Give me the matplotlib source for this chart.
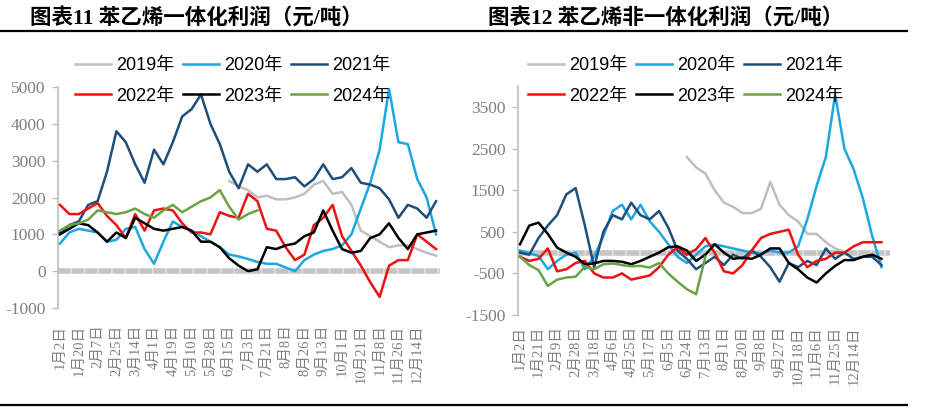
import matplotlib
matplotlib.use('Agg')
import matplotlib.pyplot as plt
from matplotlib.lines import Line2D
import numpy as np

nan = np.nan

# ---------------- data (one point every half tick interval) ----------------
years = ['2019年', '2020年', '2021年', '2022年', '2023年', '2024年']
colors = ['#BFBFBF', '#1AA7E2', '#1F4E79', '#EE1111', '#000000', '#6AA343']

left_labels = ['1月2日', '1月20日', '2月7日', '2月25日', '3月14日', '4月1日', '4月19日',
               '5月10日', '5月28日', '6月15日', '7月3日', '7月21日', '8月8日', '8月26日',
               '9月13日', '10月1日', '10月21日', '11月8日', '11月26日', '12月14日']
right_labels = ['1月2日', '1月21日', '2月9日', '2月28日', '3月18日', '4月6日', '4月25日',
                '5月17日', '6月5日', '6月24日', '7月13日', '8月1日', '8月20日', '9月8日',
                '9月27日', '10月18日', '11月6日', '11月25日', '12月14日']

# 一体化利润
int_2019 = [nan] * 18 + [2450, 2300, 2200, 2000, 2050, 1950, 1950, 2000, 2100, 2350, 2450, 2100,
                         2150, 1800, 1100, 950, 800, 650, 700, 700, 600, 500, 420]
int_2020 = [750, 1050, 1150, 1100, 1050, 800, 850, 1150, 1200, 600, 200, 800, 1350, 1200, 1100,
            950, 800, 650, 450, 400, 330, 250, 200, 200, 100, 0, 300, 450, 550, 600, 700, 1000,
            1700, 2400, 3300, 4950, 3500, 3450, 2500, 2000, 1000]
int_2021 = [1050, 1250, 1350, 1800, 1900, 2700, 3800, 3500, 2900, 2400, 3300, 2900, 3500, 4200,
            4400, 4800, 4000, 3450, 2700, 2250, 2900, 2700, 2900, 2500, 2500, 2550, 2300, 2500,
            2900, 2500, 2550, 2800, 2400, 2350, 2250, 1950, 1450, 1800, 1700, 1450, 1900]
int_2022 = [1800, 1550, 1550, 1700, 1850, 1500, 1250, 900, 1550, 1100, 1650, 1700, 1650, 1300,
            1050, 1050, 1000, 1600, 1500, 1450, 2100, 1900, 1150, 1100, 650, 300, 450, 1250, 1450,
            1800, 950, 550, 150, -300, -700, 150, 300, 300, 1000, 800, 600]
int_2023 = [1000, 1150, 1300, 1250, 1050, 800, 1050, 900, 1450, 1300, 1150, 1100, 1150, 1200,
            1100, 800, 800, 650, 350, 150, 0, 50, 650, 600, 700, 750, 950, 1050, 1650, 1100, 600,
            500, 550, 900, 1000, 1300, 900, 600, 1000, 1050, 1100]
int_2024 = [1100, 1250, 1300, 1400, 1650, 1600, 1550, 1600, 1700, 1550, 1450, 1650, 1800, 1600,
            1750, 1900, 2000, 2200, 1750, 1400, 1550, 1650] + [nan] * 19

# 非一体化利润
non_2019 = [nan] * 18 + [2300, 2050, 1900, 1500, 1200, 1100, 950, 950, 1050, 1700, 1150, 900,
                         750, 450, 450, 250, 100, 0] + [nan] * 4
non_2020 = [50, -20, -80, -400, -200, -50, 0, -400, -100, 400, 1000, 1150, 800, 1150, 750, 500,
            200, -100, -250, -50, 150, 200, 150, 100, 50, 0, -20, 50, 0, 0, 150, 800, 1600, 2300,
            3800, 2500, 2000, 1300, 400, -350]
non_2021 = [0, -50, 350, 650, 900, 1400, 1550, 650, -350, 500, 900, 800, 1200, 900, 800, 1000,
            600, 50, -150, -400, -250, -100, -300, -50, -150, 50, -100, -350, -700, -250, -350,
            -200, -300, 100, -150, 0, -150, -100, -100, -300]
non_2022 = [-100, -200, -150, 100, -450, -400, -250, -200, -500, -600, -600, -500, -650, -600,
            -550, -350, -50, 130, -50, 80, 350, 0, -450, -500, -300, 50, 350, 450, 500, 550, -50,
            -350, -200, -150, 0, 0, 150, 250, 250, 250]
non_2023 = [200, 650, 720, 450, 120, 0, -100, -280, -260, -200, -200, -220, -280, -200, -100, 0,
            130, 150, 50, -200, -50, 200, 0, -150, -120, -150, -50, 100, 100, -250, -400, -600,
            -720, -500, -320, -180, -180, -100, -50, -150]
non_2024 = [-100, -300, -420, -800, -650, -600, -580, -340, -400, -280, -260, -300, -330, -320,
            -360, -250, -500, -700, -880, -1000, -100] + [nan] * 19

int_series = [int_2019, int_2020, int_2021, int_2022, int_2023, int_2024]
non_series = [non_2019, non_2020, non_2021, non_2022, non_2023, non_2024]

# ---------------- fonts ----------------
serif_cjk = ['Liberation Serif', 'Noto Sans CJK SC']
sans_cjk = ['Liberation Sans', 'Noto Sans CJK SC']
gray_txt = '#7F7F7F'

W, H = 927, 408
fig = plt.figure(figsize=(W / 100, H / 100), dpi=100)


def fx(px):
    return px / W


def fy(py):
    return 1 - py / H


def panel(rect, series, labels, ylim, yticks, xlim, title, title_x, leg_x, xpad):
    ax = fig.add_axes(rect)
    handles = []
    for vals, c, name in zip(series, colors, years):
        xs = np.arange(len(vals)) * 0.5
        ln, = ax.plot(xs, vals, color=c, lw=1.8, label=name, zorder=3, solid_joinstyle='round')
        handles.append(ln)
    # zero line (gray band)
    ax.axhline(0, color='#C4C4C4', lw=4, gapcolor='#DCDCDC', dashes=(2.2, 0.25), zorder=2)

    ax.set_xlim(*xlim)
    ax.set_ylim(*ylim)
    ax.set_yticks(yticks)
    ax.set_yticklabels([str(v) for v in yticks], family=serif_cjk, fontsize=12.5, color=gray_txt)
    ax.set_xticks(range(len(labels)))
    ax.set_xticklabels(labels, rotation=90, family=serif_cjk, fontsize=10.5, color=gray_txt)
    ax.tick_params(axis='x', length=0, pad=xpad)
    ax.tick_params(axis='y', length=4, width=1, color='#BFBFBF', pad=5)
    for s in ['top', 'right', 'bottom']:
        ax.spines[s].set_visible(False)
    ax.spines['left'].set_color('#BFBFBF')
    ax.spines['left'].set_linewidth(1.2)

    order = [0, 3, 1, 4, 2, 5]
    ax.legend([handles[i] for i in order], [years[i] for i in order], ncol=3,
              loc='upper left', bbox_to_anchor=(fx(leg_x), fy(57)), bbox_transform=fig.transFigure,
              frameon=False, prop={'family': sans_cjk, 'size': 13}, handlelength=2.0,
              handletextpad=0.3, columnspacing=0.45, labelspacing=0.75, borderpad=0,
              borderaxespad=0)

    fig.text(fx(title_x), fy(18), title, ha='left', va='center', fontsize=15.5,
             fontweight='bold', family=serif_cjk, color='black')
    return ax


panel([fx(58), fy(308), fx(440 - 58), (308 - 87) / H], int_series, left_labels,
      (-1000, 5000), list(range(-1000, 5001, 1000)), (-0.106, 20.21),
      '图表11 苯乙烯一体化利润（元/吨）', 30, 75, 12)

panel([fx(518), fy(315), fx(890 - 518), (315 - 86.2) / H], non_series, right_labels,
      (-1500, 4000), list(range(-1500, 4000, 1000)), (-0.108, 19.96),
      '图表12 苯乙烯非一体化利润（元/吨）', 488, 528, 8)

# rules under the titles and at the bottom
fig.add_artist(Line2D([0, fx(907)], [fy(31), fy(31)], transform=fig.transFigure, color='black', lw=1.6))
fig.add_artist(Line2D([0, fx(907)], [fy(405), fy(405)], transform=fig.transFigure, color='black', lw=1.6))

fig.savefig('out.png', dpi=100)
